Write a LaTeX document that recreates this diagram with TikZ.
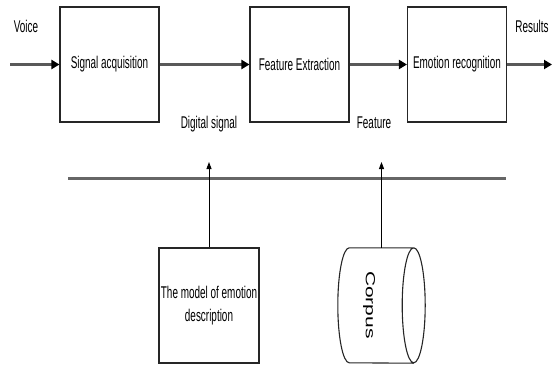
\documentclass[tikz,border=0pt]{standalone}
\usepackage{fontspec}
\setmainfont{Liberation Sans}
\usepackage{graphicx}
\usetikzlibrary{arrows.meta}
\newcommand{\sqz}[1]{\scalebox{0.585}[1]{#1}}
\tikzset{
  blockbox/.style={draw=black!85, line width=1.1pt, minimum width=99pt, minimum height=115pt, inner sep=0pt,
    font=\fontsize{17}{23}\selectfont, align=center},
  flowarrow/.style={line width=2.6pt, draw=black!65, -{Triangle[length=8pt,width=9pt,color=black]}},
  uparrow/.style={line width=0.9pt, draw=black, -{Triangle[length=7pt,width=5pt]}},
  busline/.style={line width=3pt, draw=black!60},
  lbl/.style={font=\fontsize{17}{20}\selectfont, inner sep=0pt}
}
\begin{document}
\begin{tikzpicture}[x=1pt,y=1pt]
\useasboundingbox (0,0) rectangle (553,365);
% top row
\node[blockbox] (s1) at (109.5,300.5) {\sqz{Signal acquisition}};
\node[blockbox] (s2) at (299.5,300.5) {\sqz{Feature Extraction}};
\node[blockbox] (s3) at (457,300.5) {\sqz{Emotion recognition}};
\coordinate (vin) at (10,300.5);
\coordinate (rout) at (552,300.5);
\node[lbl] (voice) at (26,339) {\sqz{Voice}};
\node[lbl] (results) at (532,339) {\sqz{Results}};
\draw[flowarrow] (vin) -- (s1.west);
\draw[flowarrow] (s1.east) -- (s2.west);
\draw[flowarrow] (s2.east) -- (s3.west);
\draw[flowarrow] (s3.east) -- (rout);
\node[lbl, anchor=base] (dsig) at (209,237) {\sqz{Digital signal}};
\node[lbl, anchor=base] (feat) at (374,237) {\sqz{Feature}};
% bus
\coordinate (busL) at (68,187);
\coordinate (busR) at (506,187);
\draw[busline] (busL) -- (busR);
% bottom
\node[blockbox, minimum width=100pt] (model) at (209,59.5) {\sqz{The model of emotion}\\\sqz{description}};
\node[minimum width=87pt, minimum height=115pt, inner sep=0pt] (corpus) at (381.5,59.5) {};
\draw[black!85, line width=1.1pt]
  ([xshift=11.5pt]corpus.north west) -- ([xshift=-11.5pt]corpus.north east)
  arc[start angle=90, end angle=-270, x radius=11.5pt, y radius=57.5pt]
  ([xshift=11.5pt]corpus.north west) arc[start angle=90, end angle=270, x radius=11.5pt, y radius=57.5pt]
  -- ([xshift=-11.5pt]corpus.south east);
\node[rotate=-90, inner sep=0pt, font=\fontsize{21}{24}\selectfont] (corpuslbl) at (369,60) {\scalebox{1}[0.63]{Corpus}};
\coordinate (a1) at (209,203);
\coordinate (a2) at (381.5,203);
\draw[uparrow] (model.north) -- (a1);
\draw[uparrow] (corpus.north) -- (a2);
\end{tikzpicture}
\end{document}
